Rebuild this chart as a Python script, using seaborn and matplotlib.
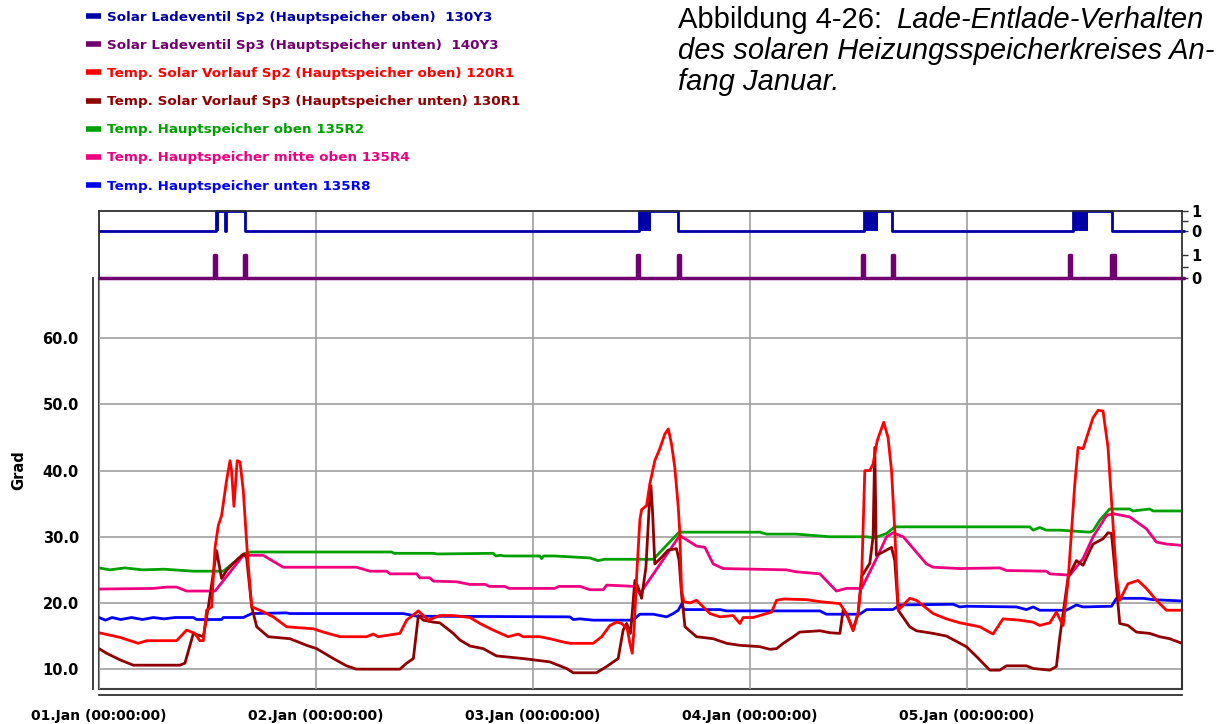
import numpy as np
import pandas as pd
import matplotlib
matplotlib.use("Agg")
import matplotlib.pyplot as plt
import seaborn as sns
from matplotlib.lines import Line2D
from matplotlib.ticker import MultipleLocator, FixedLocator

# time axis in days since 01.Jan 00:00
green_t = [0, 0.05, 0.12, 0.20, 0.30, 0.435, 0.573, 0.673, 0.70, 1.349, 1.36, 1.54, 1.56, 1.817, 1.83, 1.85,
           1.87, 2.032, 2.04, 2.05, 2.10, 2.263, 2.30, 2.33, 2.555, 2.674, 3.046, 3.077, 3.215, 3.369, 3.538,
           3.576, 3.630, 3.668, 4.290, 4.306, 4.336, 4.367, 4.429, 4.567, 4.582, 4.613, 4.659, 4.751, 4.766,
           4.843, 4.859, 4.992]
green_v = [25.3, 25.0, 25.3, 25.0, 25.1, 24.8, 24.8, 27.5, 27.7, 27.7, 27.5, 27.5, 27.4, 27.5, 27.1, 27.2,
           27.1, 27.1, 26.7, 27.1, 27.1, 26.8, 26.4, 26.6, 26.6, 30.7, 30.7, 30.4, 30.4, 30.0, 30.0,
           29.85, 30.5, 31.5, 31.5, 31.0, 31.4, 31.0, 31.0, 30.7, 30.9, 32.5, 34.2, 34.2, 33.9,
           34.2, 33.9, 33.9]

pink_t = [0, 0.25, 0.312, 0.358, 0.404, 0.535, 0.665, 0.757, 0.849, 1.187, 1.249, 1.326, 1.341, 1.464, 1.479,
          1.525, 1.541, 1.648, 1.710, 1.78, 1.80, 1.87, 1.89, 2.10, 2.12, 2.217, 2.263, 2.324, 2.340, 2.470,
          2.493, 2.677, 2.754, 2.793, 2.831, 2.877, 3.169, 3.215, 3.323, 3.399, 3.445, 3.515, 3.591, 3.630,
          3.660, 3.707, 3.814, 3.845, 3.968, 4.152, 4.183, 4.367, 4.383, 4.475, 4.536, 4.582, 4.644, 4.674,
          4.751, 4.828, 4.874, 4.920, 4.992]
pink_v = [22.1, 22.2, 22.4, 22.4, 21.8, 21.8, 27.2, 27.2, 25.4, 25.4, 24.8, 24.8, 24.4, 24.4, 23.8,
          23.8, 23.3, 23.2, 22.8, 22.8, 22.5, 22.5, 22.2, 22.2, 22.5, 22.5, 22.0, 22.0, 22.7, 22.5,
          21.4, 30.2, 28.6, 28.4, 25.9, 25.2, 25.0, 24.7, 24.4, 21.8, 22.2, 22.2, 27.2, 30.0,
          30.6, 30.0, 25.9, 25.4, 25.2, 25.3, 24.9, 24.8, 24.4, 24.2, 26.7, 30.0, 33.2, 33.5,
          33.0, 31.2, 29.2, 28.9, 28.7]

blue_t = [0, 0.03, 0.06, 0.10, 0.15, 0.20, 0.25, 0.30, 0.35, 0.435, 0.45, 0.496, 0.565, 0.573, 0.665,
          0.704, 0.865, 0.88, 1.402, 1.464, 2.170, 2.186, 2.217, 2.278, 2.462, 2.493, 2.555, 2.616, 2.647,
          2.670, 2.685, 2.696, 2.862, 2.893, 3.323, 3.353, 3.507, 3.538, 3.660, 3.691, 3.937, 3.968, 3.998,
          4.229, 4.275, 4.306, 4.336, 4.459, 4.505, 4.536, 4.667, 4.690, 4.813, 4.859, 4.992]
blue_v = [17.8, 17.4, 17.8, 17.5, 17.8, 17.5, 17.8, 17.6, 17.8, 17.8, 17.5, 17.5, 17.5, 17.8, 17.8,
          18.4, 18.5, 18.4, 18.4, 18.0, 17.9, 17.5, 17.6, 17.4, 17.4, 18.3, 18.3, 17.9, 18.4,
          18.9, 19.8, 19.0, 19.0, 18.8, 18.8, 18.3, 18.3, 19.0, 19.0, 19.7, 19.8, 19.4, 19.5,
          19.4, 19.0, 19.4, 18.9, 18.9, 19.7, 19.4, 19.5, 20.7, 20.7, 20.5, 20.3]

red_t = [0, 0.097, 0.181, 0.22, 0.358, 0.404, 0.442, 0.465, 0.481, 0.496,
         0.519, 0.535, 0.550, 0.565, 0.588, 0.604, 0.611, 0.622, 0.637, 0.650,
         0.665, 0.685, 0.704, 0.742, 0.803, 0.865, 0.988, 1.034, 1.111, 1.233,
         1.264, 1.287, 1.387, 1.418, 1.472, 1.518, 1.571, 1.633, 1.71, 1.756,
         1.817, 1.886, 1.932, 1.955, 2.032, 2.078, 2.140, 2.171, 2.278, 2.317,
         2.355, 2.386, 2.409, 2.435, 2.447, 2.458, 2.467, 2.478, 2.493, 2.501,
         2.524, 2.539, 2.562, 2.585, 2.608, 2.624, 2.639, 2.654, 2.670, 2.677,
         2.685, 2.696, 2.724, 2.754, 2.785, 2.816, 2.862, 2.923, 2.954, 2.969,
         3.015, 3.077, 3.100, 3.123, 3.154, 3.261, 3.323, 3.415, 3.445, 3.476,
         3.499, 3.515, 3.530, 3.553, 3.568, 3.587, 3.617, 3.637, 3.653, 3.668,
         3.684, 3.737, 3.768, 3.845, 3.906, 3.968, 4.060, 4.121, 4.167, 4.244,
         4.306, 4.336, 4.383, 4.413, 4.444, 4.467, 4.498, 4.513, 4.536, 4.582,
         4.605, 4.628, 4.651, 4.667, 4.690, 4.705, 4.743, 4.789, 4.828, 4.874,
         4.920, 4.992]
red_v = [15.5, 14.8, 13.9, 14.3, 14.3, 15.9, 15.4, 14.3, 14.3, 18.9,
         19.4, 28.4, 31.7, 33.2, 38.5, 41.5, 40.0, 34.6, 41.5, 41.3,
         37.0, 26.9, 19.4, 18.9, 17.9, 16.4, 16.1, 15.6, 14.9, 14.9,
         15.3, 14.9, 15.4, 17.4, 18.8, 17.4, 18.1, 18.1, 17.8, 16.9,
         15.9, 14.9, 15.3, 14.9, 14.9, 14.6, 14.1, 13.9, 13.9, 14.9,
         16.6, 17.1, 16.9, 16.1, 13.9, 12.4, 16.4, 23.9, 32.5, 34.1,
         34.7, 38.0, 41.5, 43.3, 45.5, 46.3, 44.0, 40.5, 34.5, 30.7,
         21.9, 20.2, 20.0, 20.4, 19.4, 18.4, 17.9, 18.1, 16.9, 17.8,
         17.8, 18.4, 18.6, 20.4, 20.6, 20.5, 20.2, 19.9, 18.4, 15.8,
         18.4, 23.4, 40.0, 40.0, 41.0, 44.5, 47.3, 45.0, 40.0, 31.0,
         18.9, 20.7, 20.4, 18.4, 17.6, 17.0, 16.4, 15.3, 17.6, 17.4,
         17.1, 16.6, 17.0, 18.6, 16.6, 23.4, 38.0, 43.5, 43.3, 48.0,
         49.1, 49.0, 43.5, 35.5, 23.9, 20.4, 22.9, 23.4, 22.2, 20.4,
         18.9, 18.9]

dred_t = [0, 0.035, 0.097, 0.158, 0.373, 0.396, 0.435, 0.481, 0.504, 0.542,
          0.565, 0.588, 0.619, 0.665, 0.680, 0.704, 0.727, 0.780, 0.880, 0.957,
          1.003, 1.080, 1.141, 1.187, 1.387, 1.418, 1.449, 1.472, 1.495, 1.541,
          1.571, 1.633, 1.664, 1.71, 1.771, 1.832, 1.955, 2.078, 2.155, 2.186,
          2.293, 2.340, 2.393, 2.416, 2.432, 2.450, 2.470, 2.485, 2.501, 2.521,
          2.536, 2.544, 2.552, 2.562, 2.593, 2.624, 2.662, 2.674, 2.685, 2.701,
          2.754, 2.831, 2.893, 2.954, 3.046, 3.092, 3.123, 3.154, 3.200, 3.230,
          3.323, 3.369, 3.415, 3.430, 3.445, 3.476, 3.499, 3.515, 3.553, 3.568,
          3.576, 3.583, 3.614, 3.653, 3.668, 3.684, 3.737, 3.768, 3.845, 3.906,
          3.998, 4.045, 4.106, 4.152, 4.183, 4.275, 4.306, 4.383, 4.413, 4.429,
          4.444, 4.467, 4.505, 4.536, 4.567, 4.582, 4.628, 4.651, 4.667, 4.682,
          4.705, 4.743, 4.782, 4.843, 4.889, 4.935, 4.992]
dred_v = [13.1, 12.4, 11.4, 10.6, 10.6, 10.9, 15.4, 14.9, 19.4, 27.9,
          23.7, 24.9, 26.0, 27.4, 26.9, 19.4, 16.4, 14.9, 14.6, 13.6,
          13.1, 11.6, 10.5, 10.0, 10.0, 10.9, 11.6, 18.1, 17.4, 17.1,
          17.0, 15.4, 14.4, 13.5, 13.1, 12.0, 11.6, 11.1, 10.1, 9.45,
          9.45, 10.4, 11.6, 15.9, 16.9, 15.4, 23.4, 22.4, 20.7, 25.4,
          34.5, 37.7, 33.5, 25.9, 26.9, 28.0, 28.2, 26.4, 21.4, 16.4,
          14.9, 14.6, 13.9, 13.6, 13.4, 13.0, 13.1, 13.9, 14.9, 15.6,
          15.8, 15.5, 15.4, 18.9, 18.4, 16.0, 18.4, 24.0, 26.0, 30.0,
          43.5, 27.2, 27.7, 28.4, 26.4, 18.9, 16.4, 15.8, 15.4, 15.0,
          13.4, 11.9, 9.85, 9.85, 10.5, 10.5, 10.1, 9.85, 10.4, 14.9,
          18.4, 23.9, 26.4, 25.7, 27.9, 28.9, 29.7, 30.6, 30.5, 25.4,
          16.9, 16.6, 15.6, 15.4, 14.9, 14.6, 13.9]

# valve states (open intervals, days)
sp2_on = [(0.539, 0.583), (0.587, 0.673), (2.488, 2.668), (3.525, 3.654), (4.488, 4.668)]
sp2_toggle = [(0.539, 0.553), (2.488, 2.544), (3.525, 3.590), (4.488, 4.558)]
sp3_on = [(0.532, 0.540), (0.670, 0.678), (2.481, 2.489), (2.670, 2.678), (3.518, 3.526),
          (3.656, 3.664), (4.472, 4.480), (4.664, 4.669), (4.676, 4.684)]

labels = ["Solar Ladeventil Sp2 (Hauptspeicher oben)  130Y3",
          "Solar Ladeventil Sp3 (Hauptspeicher unten)  140Y3",
          "Temp. Solar Vorlauf Sp2 (Hauptspeicher oben) 120R1",
          "Temp. Solar Vorlauf Sp3 (Hauptspeicher unten) 130R1",
          "Temp. Hauptspeicher oben 135R2",
          "Temp. Hauptspeicher mitte oben 135R4",
          "Temp. Hauptspeicher unten 135R8"]
colors = ["#0000a8", "#700070", "#ff0000", "#900000", "#00a000", "#f00080", "#0000ff"]
day_labels = ["01.Jan (00:00:00)", "02.Jan (00:00:00)", "03.Jan (00:00:00)",
              "04.Jan (00:00:00)", "05.Jan (00:00:00)"]

sns.set_style("white")
plt.rcParams["font.family"] = ["DejaVu Sans"]
plt.rcParams["text.color"] = "black"

W, H = 1226, 724
fig = plt.figure(figsize=(W / 100, H / 100), dpi=100)
fig.patch.set_facecolor("white")


def fx(px):
    return px / W


def fy(py):
    return 1 - py / H


ax = fig.add_axes([fx(99), fy(689), fx(1182) - fx(99), fy(278) - fy(689)])
axd = fig.add_axes([fx(99), fy(278), fx(1182) - fx(99), fy(211) - fy(278)], sharex=ax)

# temperature curves
series = [(green_t, green_v, colors[4]), (pink_t, pink_v, colors[5]), (blue_t, blue_v, colors[6]),
          (dred_t, dred_v, colors[3]), (red_t, red_v, colors[2])]
for t, v, c in series:
    df = pd.DataFrame({"t": t, "v": v})
    sns.lineplot(data=df, x="t", y="v", ax=ax, color=c, lw=2.0, estimator=None, sort=False)


def step_frame(intervals, lo, hi):
    xs, ys = [0.0], [lo]
    for s, e in intervals:
        xs += [s, s, e, e]
        ys += [lo, hi, hi, lo]
    xs.append(5.0)
    ys.append(lo)
    return pd.DataFrame({"t": xs, "v": ys})


# digital strips (panel units: strip2 0..23, strip1 47..67)
sns.lineplot(data=step_frame(sp2_on, 47, 67), x="t", y="v", ax=axd, color=colors[0], lw=2.0,
             estimator=None, sort=False)
for s, e in sp2_toggle:
    axd.fill_between([s, e], 47, 67, color=colors[0], lw=0)
sns.lineplot(data=step_frame(sp3_on, 0, 23), x="t", y="v", ax=axd, color=colors[1], lw=2.5,
             estimator=None, sort=False)
for ln in axd.get_lines():
    ln.set_clip_on(False)

# axes setup
ax.set_xlim(0, 4.992)
ax.set_ylim(7.0, 69.1)
axd.set_ylim(0, 67)

grid_kw = dict(color="#a0a0a0", lw=1.2)
ax.xaxis.set_major_locator(FixedLocator([0, 1, 2, 3, 4]))
ax.xaxis.set_minor_locator(FixedLocator([0.5, 1.5, 2.5, 3.5, 4.5]))
ax.set_xticklabels(day_labels)
ax.yaxis.set_minor_locator(MultipleLocator(5))
ax.set_yticks([10, 20, 30, 40, 50, 60])
ax.set_yticklabels([f"{v:.1f}" for v in [10, 20, 30, 40, 50, 60]])
ax.grid(True, which="major", **grid_kw)
ax.set_axisbelow(True)

ax.spines["top"].set_visible(False)
ax.spines["left"].set_position(("outward", 4))
ax.spines["bottom"].set_position(("outward", 4))
for sp in ["left", "bottom", "right"]:
    ax.spines[sp].set_color("#303030")
    ax.spines[sp].set_linewidth(1.3)
ax.patch.set_edgecolor("#404040")
ax.patch.set_linewidth(1.5)

ax.tick_params(axis="both", which="major", direction="out", length=5.5, width=1, color="#303030", pad=5)
ax.tick_params(axis="both", which="minor", direction="out", length=3, width=1, color="#303030")
ax.tick_params(axis="x", labelsize=10, labelcolor="black")
ax.tick_params(axis="y", labelsize=10.5, labelcolor="black")
for lab in ax.get_xticklabels() + ax.get_yticklabels():
    lab.set_fontweight("bold")

ax.set_xlabel("")
ax.set_ylabel("Grad", fontsize=10.5, fontweight="bold", color="black")
ax.yaxis.set_label_coords(-0.067, 0.533)

axd.grid(True, axis="x", which="major", **grid_kw)
axd.set_axisbelow(True)
axd.spines["bottom"].set_visible(False)
for sp in ["top", "left", "right"]:
    axd.spines[sp].set_color("#303030")
    axd.spines[sp].set_linewidth(1.3)
axd.set_xlabel("")
axd.set_ylabel("")
axd.tick_params(axis="x", which="both", bottom=False, labelbottom=False)
axd.yaxis.tick_right()
axd.set_yticks([0, 11.5, 23, 47, 57, 67])
axd.set_yticklabels(["0", "", "1", "0", "", "1"])
axd.tick_params(axis="y", direction="out", length=4, width=1, color="#303030", labelsize=10.5,
                labelcolor="black", pad=3)
for lab in axd.get_yticklabels():
    lab.set_fontweight("bold")

# legend
handles = [Line2D([], [], color=c, lw=4, solid_capstyle="butt") for c in colors]
fig.legend(handles, labels, loc="upper left", bbox_to_anchor=(fx(86), fy(11)), frameon=False,
           handlelength=1.1, handletextpad=0.45, labelspacing=1.12, borderpad=0, borderaxespad=0,
           labelcolor=colors, prop=dict(weight="bold", size=9.7))

# caption
cap_kw = dict(fontsize=21, family=["Liberation Sans", "DejaVu Sans"], va="center", ha="left", color="black")
t0 = fig.text(fx(678), fy(20), "Abbildung 4-26:", **cap_kw)
fig.canvas.draw()
bb = t0.get_window_extent()
fig.text((bb.x1 + 14) / W, fy(20), "Lade-Entlade-Verhalten", style="italic", **cap_kw)
fig.text(fx(678), fy(51), "des solaren Heizungsspeicherkreises An-", style="italic", **cap_kw)
fig.text(fx(678), fy(82), "fang Januar.", style="italic", **cap_kw)

fig.savefig("out.png", dpi=100, facecolor="white")
